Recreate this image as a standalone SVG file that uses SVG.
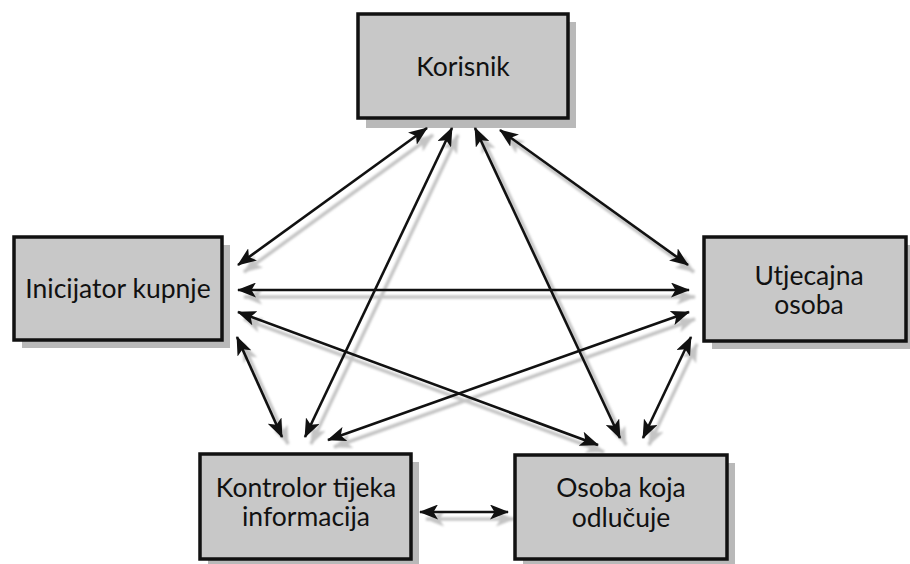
<svg xmlns="http://www.w3.org/2000/svg" width="910" height="564" viewBox="0 0 910 564">
<defs>
<style>
.box{fill:#c8c8c8;stroke:#111;stroke-width:3.5}
.bsh{fill:#b9b9b9}
.t{font-family:Lato,"Open Sans","Liberation Sans",sans-serif;font-size:26.5px;fill:#111;text-anchor:middle}
.c line{stroke:#111;stroke-width:2.6;marker-start:url(#ah);marker-end:url(#ah)}
.s line{stroke:#c4c4c4;stroke-width:3.5;marker-start:url(#ahs);marker-end:url(#ahs)}
</style>
<marker id="ah" viewBox="0 0 19 15" markerWidth="19" markerHeight="15" refX="18" refY="7.5" orient="auto-start-reverse" markerUnits="userSpaceOnUse">
<path d="M0,0 L19,7.5 L0,15 L4.5,7.5 z" fill="#111"/>
</marker>
<marker id="ahs" viewBox="0 0 19 15" markerWidth="19" markerHeight="15" refX="18" refY="7.5" orient="auto-start-reverse" markerUnits="userSpaceOnUse">
<path d="M0,0 L19,7.5 L0,15 L4.5,7.5 z" fill="#c4c4c4"/>
</marker>
<filter id="bl" x="-10%" y="-10%" width="120%" height="120%"><feGaussianBlur stdDeviation="1"/></filter>
</defs>
<rect width="910" height="564" fill="#fff"/>
<g id="shadows-boxes">
<rect class="bsh" x="366" y="22" width="210" height="106"/>
<rect class="bsh" x="22" y="245" width="208" height="103"/>
<rect class="bsh" x="712" y="245" width="202" height="104"/>
<rect class="bsh" x="208" y="462" width="211" height="105"/>
<rect class="bsh" x="523" y="463" width="212" height="104"/>
</g>
<g id="connectors">
<g class="s" filter="url(#bl)" transform="translate(6,7)">
<line x1="238" y1="265" x2="427" y2="128"/>
<line x1="305" y1="437" x2="452" y2="128"/>
<line x1="238" y1="290" x2="689" y2="290"/>
<line x1="500" y1="130" x2="688" y2="265"/>
<line x1="475" y1="128" x2="620" y2="438"/>
<line x1="238" y1="312" x2="598" y2="445"/>
<line x1="691" y1="337" x2="643" y2="438"/>
<line x1="689" y1="312" x2="328" y2="440"/>
<line x1="237" y1="337" x2="282" y2="437"/>
<line x1="420" y1="512" x2="508" y2="512"/>
</g>
<g class="c">
<line x1="238" y1="265" x2="427" y2="128"/>
<line x1="305" y1="437" x2="452" y2="128"/>
<line x1="238" y1="290" x2="689" y2="290"/>
<line x1="500" y1="130" x2="688" y2="265"/>
<line x1="475" y1="128" x2="620" y2="438"/>
<line x1="238" y1="312" x2="598" y2="445"/>
<line x1="691" y1="337" x2="643" y2="438"/>
<line x1="689" y1="312" x2="328" y2="440"/>
<line x1="237" y1="337" x2="282" y2="437"/>
<line x1="420" y1="512" x2="508" y2="512"/>
</g>
</g>
<g id="korisnik">
<rect class="box" x="358" y="14" width="210" height="104"/>
<text class="t" x="463" y="76">Korisnik</text>
</g>
<g id="inicijator">
<rect class="box" x="14" y="237" width="208" height="103"/>
<text class="t" x="118" y="298">Inicijator kupnje</text>
</g>
<g id="utjecajna">
<rect class="box" x="704" y="237" width="202" height="104"/>
<text class="t" x="809" y="285">Utjecajna</text>
<text class="t" x="809" y="314">osoba</text>
</g>
<g id="kontrolor">
<rect class="box" x="200" y="454" width="211" height="105"/>
<text class="t" x="306" y="497">Kontrolor tijeka</text>
<text class="t" x="306" y="526">informacija</text>
</g>
<g id="osoba">
<rect class="box" x="515" y="455" width="212" height="104"/>
<text class="t" x="621" y="497">Osoba koja</text>
<text class="t" x="621" y="527">odlučuje</text>
</g>
</svg>
